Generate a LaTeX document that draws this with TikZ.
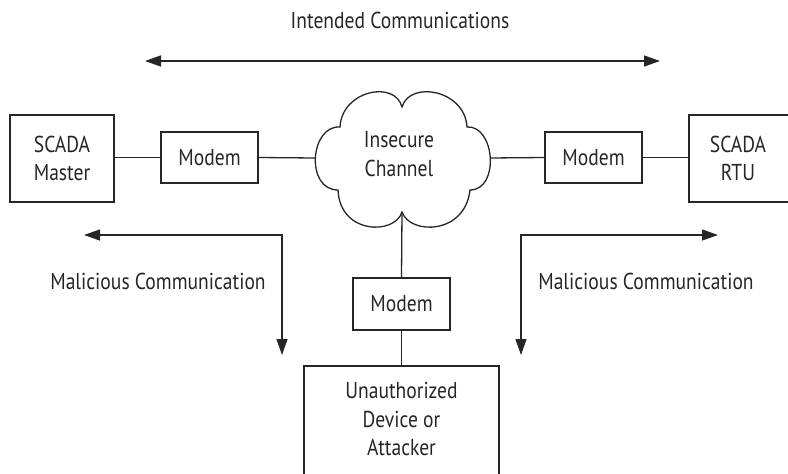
\documentclass[tikz,border=0pt]{standalone}
\usepackage{fontspec}
\setmainfont[FakeStretch=0.85]{PT Sans}
\usetikzlibrary{arrows.meta}
\begin{document}
\begin{tikzpicture}[x=1pt,y=-1pt,
  line width=1.3pt,
  every node/.style={font=\fontsize{23}{28.5}\selectfont, text=black!85, align=center},
  box/.style={draw=black!85, line width=1.3pt, inner sep=0pt},
  link/.style={draw=black!85, line width=1.3pt},
  lbl/.style={inner sep=0pt}]
\useasboundingbox (0,0) rectangle (788,474);
\clip (0,0) rectangle (788,474);
% Intended communications
\node[lbl] (intended) at (400,20) {Intended Communications};
\coordinate (il) at (145,61);
\coordinate (ir) at (660,61);
\draw[link, {Triangle[length=16pt,width=11pt]}-{Triangle[length=16pt,width=11pt]}] (il) -- (ir);
% boxes
\node[box, minimum width=104pt, minimum height=87pt] (master) at (62,158.5) {SCADA\\Master};
\node[box, minimum width=97pt, minimum height=51pt] (modemL) at (209.5,157.5) {Modem};
\node[box, minimum width=97pt, minimum height=51pt] (modemR) at (593.5,157.5) {Modem};
\node[box, minimum width=112pt, minimum height=87pt] (rtu) at (745,158.5) {\phantom{X}};
\node[lbl] (rtutext) at (738,158.5) {SCADA\\RTU};
\node[box, minimum width=97pt, minimum height=52pt] (modemB) at (401.5,304) {Modem};
\node[box, minimum width=195pt, minimum height=130pt] (attacker) at (401.5,431) {\phantom{X}};
\node[lbl] (attext) at (401.5,419) {Unauthorized\\Device or\\Attacker};
% cloud
\draw[link, fill=white] (338,190)
  .. controls (305,190) and (310,125) .. (340,127)
  .. controls (342,90) and (395,80) .. (402,107)
  .. controls (410,80) and (465,90) .. (467,127)
  .. controls (495,125) and (500,190) .. (470,190)
  .. controls (465,235) and (410,235) .. (402,212)
  .. controls (395,235) and (340,235) .. (338,190) -- cycle;
\node[lbl] (cloud) at (399,154) {Insecure\\Channel};
\coordinate (cl) at (315,158);
\coordinate (cr) at (490,158);
\coordinate (cb) at (402,212);
% links
\draw[link] (master.east |- modemL.west) -- (modemL.west);
\draw[link] (modemL.east) -- (cl);
\draw[link] (cr) -- (modemR.west);
\draw[link] (modemR.east) -- (rtu.west |- modemR.east);
\draw[link] (cb) -- (modemB.north);
\draw[link] (modemB.south) -- (attacker.north);
% malicious
\coordinate (ml0) at (282,355);
\coordinate (mlc) at (282,235);
\coordinate (mlt) at (84,235);
\coordinate (mr0) at (521,355);
\coordinate (mrc) at (521,235);
\coordinate (mrt) at (718,235);
\draw[link, {Triangle[length=16pt,width=11pt]}-{Triangle[length=16pt,width=11pt]}] (mlt) -- (mlc) -- (ml0);
\draw[link, {Triangle[length=16pt,width=11pt]}-{Triangle[length=16pt,width=11pt]}] (mrt) -- (mrc) -- (mr0);
\node[lbl] (malL) at (158,281) {Malicious Communication};
\node[lbl] (malR) at (646,281) {Malicious Communication};
\end{tikzpicture}
\end{document}
